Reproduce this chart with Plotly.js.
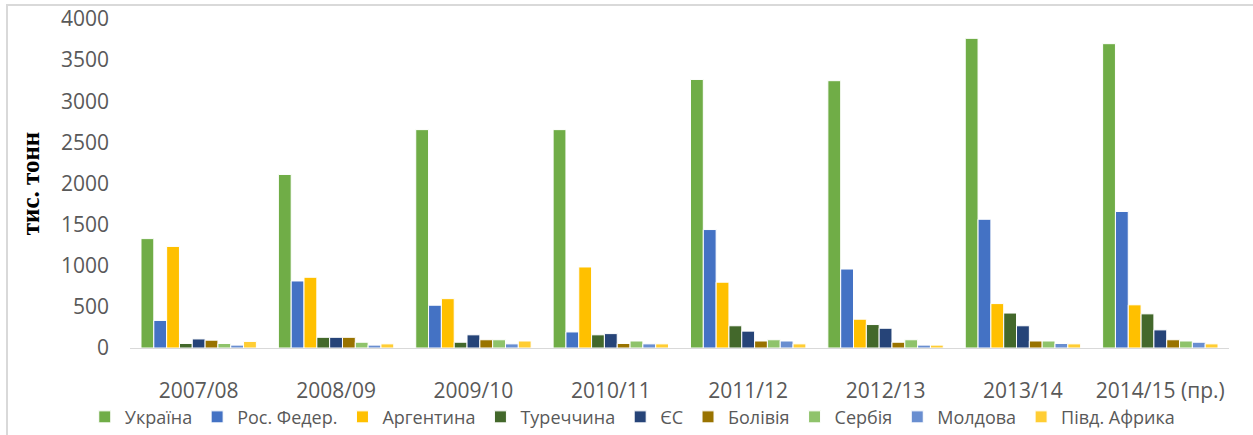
<!DOCTYPE html>
<html>
<head>
<meta charset="utf-8">
<script src="https://cdn.plot.ly/plotly-3.0.1.min.js"></script>
<style>
  html, body { margin: 0; padding: 0; background: #fff; overflow: hidden; }
  #frame { position: absolute; left: 6px; top: 4px; width: 1300px; height: 500px; border-left: 2px solid #d9d9d9; border-top: 2px solid #d9d9d9; pointer-events: none; z-index: 5; }
  #chart { position: absolute; left: 0; top: 0; width: 1253px; height: 435px; }
</style>
</head>
<body>
<div id="chart"></div>
<div id="frame"></div>
<script>
const seasons = ["2007/08", "2008/09", "2009/10", "2010/11", "2011/12", "2012/13", "2013/14", "2014/15 (пр.)"];
const countries = ["Україна", "Рос. Федер.", "Аргентина", "Туреччина", "ЄС", "Болівія", "Сербія", "Молдова", "Півд. Африка"];

const ukraine   = [1330, 2110, 2655, 2655, 3265, 3250, 3765, 3700];
const russia    = [335, 815, 520, 195, 1440, 960, 1565, 1660];
const argentina = [1235, 860, 600, 985, 800, 350, 540, 525];
const turkey    = [55, 130, 70, 160, 270, 285, 425, 415];
const eu        = [110, 130, 160, 175, 205, 240, 270, 220];
const bolivia   = [95, 130, 100, 55, 85, 70, 85, 100];
const serbia    = [55, 70, 100, 85, 100, 100, 85, 85];
const moldova   = [35, 35, 50, 50, 85, 35, 55, 70];
const safrica   = [80, 50, 85, 50, 50, 35, 50, 50];

const seriesValues = [ukraine, russia, argentina, turkey, eu, bolivia, serbia, moldova, safrica];
const colors = ["#70AD47", "#4472C4", "#FFC000", "#43682B", "#264478", "#997300", "#8FC36B", "#698ED0", "#FFCD33"];

const traces = countries.map((name, i) => ({
  type: "bar",
  name: name,
  x: seasons,
  y: seriesValues[i],
  marker: { color: colors[i], line: { color: "#ffffff", width: 1 } },
  hoverinfo: "x+y+name"
}));

const layout = {
  width: 1253,
  height: 435,
  margin: { l: 130, r: 24, t: 19, b: 87 },
  paper_bgcolor: "#ffffff",
  plot_bgcolor: "#ffffff",
  barmode: "group",
  bargap: 0.16,
  bargroupgap: 0,
  showlegend: true,
  font: { family: "Open Sans, sans-serif", color: "#595959" },
  xaxis: {
    type: "category",
    showline: true,
    linecolor: "#d9d9d9",
    linewidth: 1,
    showgrid: false,
    ticks: "",
    ticklabelstandoff: 24,
    tickfont: { family: "Open Sans, sans-serif", size: 21, color: "#595959" }
  },
  yaxis: {
    range: [0, 4000],
    dtick: 500,
    showgrid: false,
    zeroline: false,
    showline: false,
    ticks: "",
    ticklabelstandoff: 20,
    tickfont: { family: "Open Sans, sans-serif", size: 21, color: "#595959" },
    title: {
      text: "тис. тонн",
      font: { family: "Liberation Serif, serif", size: 25, color: "#000000", weight: "bold" },
      standoff: 14
    }
  },
  legend: {
    orientation: "h",
    xref: "container",
    yref: "container",
    x: 0.505,
    xanchor: "center",
    y: 0.041,
    yanchor: "middle",
    itemwidth: 30,
    tracegroupgap: 0,
    traceorder: "normal",
    font: { family: "Open Sans, sans-serif", size: 18, color: "#595959" }
  }
};

Plotly.newPlot("chart", traces, layout, { displayModeBar: false, staticPlot: true });
</script>
</body>
</html>
